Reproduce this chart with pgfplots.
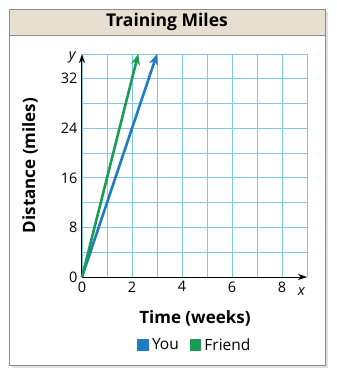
\documentclass[border=0pt]{standalone}
\usepackage{pgfplots}
\pgfplotsset{compat=1.18}
\usepackage{fontspec}
\setmainfont{Open Sans}
\usetikzlibrary{arrows.meta}
\definecolor{youblue}{HTML}{1E7BC4}
\definecolor{friendgreen}{HTML}{1B9C55}
\definecolor{gridc}{HTML}{7FC9DC}
\definecolor{band}{HTML}{E7E0D2}
\definecolor{frame}{HTML}{8C8C8C}
\begin{document}
\begin{tikzpicture}
\useasboundingbox (0,0) rectangle (337pt,-381pt);
% shadow
\fill[black!12] (12pt,-12pt) rectangle (328pt,-368pt);
\fill[white] (9pt,-9pt) rectangle (325pt,-365pt);
\fill[band] (9pt,-9pt) rectangle (325pt,-35pt);
\draw[frame, line width=0.8pt] (9pt,-35pt) -- (325pt,-35pt);
\draw[frame, line width=1pt] (9pt,-9pt) rectangle (325pt,-365pt);
\node[font=\bfseries\fontsize{17.5pt}{20pt}\selectfont] at (167pt,-21.5pt) {Training Miles};
\begin{axis}[
  at={(82pt,-277pt)}, anchor=south west,
  scale only axis, width=225pt, height=223pt,
  xmin=0, xmax=9, ymin=0, ymax=36,
  axis lines=left,
  axis line style={black, line width=1pt, -{Stealth[length=9pt,width=6pt]}},
  xtick={0,2,4,6,8}, minor xtick={1,3,5,7,9},
  ytick={0,8,16,24,32}, minor ytick={4,12,20,28,36},
  grid=both,
  major grid style={gridc, line width=0.9pt},
  minor grid style={gridc, line width=0.9pt},
  major tick length=0pt, minor tick length=0pt,
  /pgf/number format/assume math mode=true,
  tick label style={font=\fontsize{14.5pt}{16pt}\selectfont, black},
  xticklabel style={yshift=-1pt},
  yticklabel style={xshift=-1pt},
  xlabel={Time (weeks)}, ylabel={Distance (miles)},
  label style={font=\bfseries\fontsize{17pt}{19pt}\selectfont},
  xlabel style={at={(axis description cs:0.502,-0.184)}, anchor=center},
  ylabel style={at={(axis description cs:-0.231,0.5)}, anchor=center},
  legend style={at={(axis description cs:0.502,-0.305)}, anchor=center, draw=none, fill=none,
    legend columns=2, font=\fontsize{15.5pt}{17pt}\selectfont},
  legend image code/.code={\fill (0pt,-4.5pt) rectangle (9pt,4.5pt); \path (0pt,0pt) -- (10pt,0pt);},
  clip=false,
]
\addplot[youblue, line width=2.6pt, -{Stealth[length=11pt,width=9pt]}] coordinates {(0,0) (3,36)};
\addlegendentry{You\rule{9pt}{0pt}}
\addplot[friendgreen, line width=2.6pt, -{Stealth[length=11pt,width=9pt]}] coordinates {(0,0) (2.25,36)};
\addlegendentry{Friend}
\node[font=\itshape\fontsize{14.5pt}{16pt}\selectfont] at (axis description cs:0.975,-0.067) {x};
\node[font=\itshape\fontsize{14.5pt}{16pt}\selectfont] at (axis description cs:-0.044,0.985) {y};
\end{axis}
\end{tikzpicture}
\end{document}
